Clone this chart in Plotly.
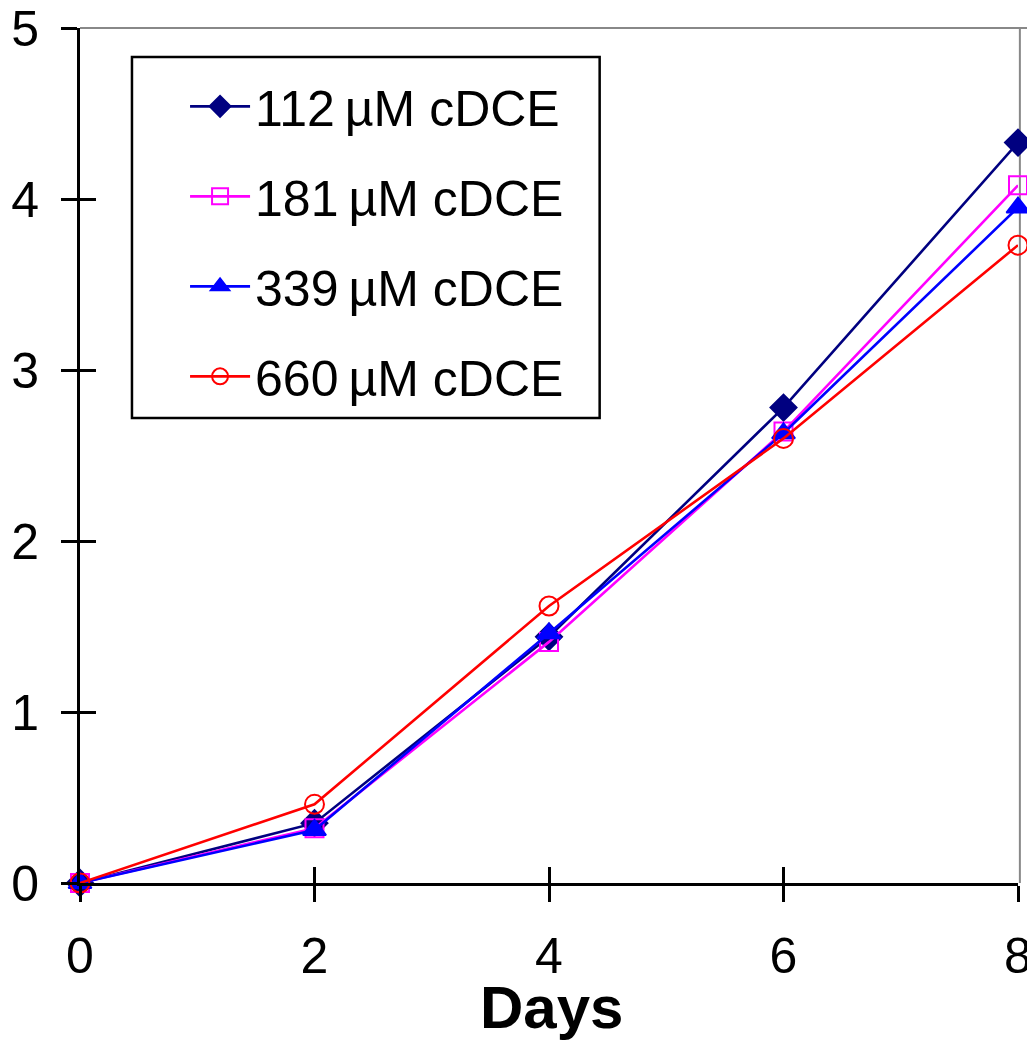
import plotly.graph_objects as go

days = [0, 2, 4, 6, 8]
s112 = [0.0, 0.35, 1.44, 2.78, 4.33]
s181 = [0.0, 0.32, 1.41, 2.64, 4.08]
s339 = [0.0, 0.31, 1.46, 2.63, 3.95]
s660 = [0.0, 0.46, 1.62, 2.60, 3.73]

names = ["112\u2009\u00b5M cDCE", "181\u2009\u00b5M cDCE", "339\u2009\u00b5M cDCE", "660\u2009\u00b5M cDCE"]
colors = ["#000080", "#FF00FF", "#0000FF", "#FF0000"]
symbols = ["diamond", "square-open", "triangle-up", "circle-open"]
sizes = [20, 18, 20, 19]
series = [s112, s181, s339, s660]

FONT = "Liberation Sans, Arial, sans-serif"

fig = go.Figure()
for i, (nm, col, sym, sz, ys) in enumerate(zip(names, colors, symbols, sizes, series)):
    fig.add_trace(go.Scatter(
        x=days, y=ys, name=nm, mode="lines+markers",
        line=dict(color=col, width=2.6),
        marker=dict(symbol=sym, size=sz, color=col, line=dict(color=col, width=2)),
        cliponaxis=False, legendgroup="g%d" % i,
    ))

# invisible trace on secondary axes to enable inside ticks (crossing ticks)
fig.add_trace(go.Scatter(x=[0], y=[0], xaxis="x2", yaxis="y2", mode="markers",
                         marker=dict(opacity=0), showlegend=False, hoverinfo="skip"))

fig.update_layout(
    width=1027, height=1038,
    margin=dict(l=72, r=17, t=20, b=163),
    paper_bgcolor="white", plot_bgcolor="white",
    font=dict(family=FONT, color="black", size=50),
    showlegend=True,
    legend=dict(
        x=0.112, y=0.954, xanchor="left", yanchor="top",
        bgcolor="rgba(0,0,0,0)", borderwidth=0,
        font=dict(family=FONT, size=50, color="black"),
        tracegroupgap=22, itemwidth=60,
    ),
    xaxis=dict(
        range=[0, 8], tickvals=[0, 2, 4, 6, 8], showgrid=False, zeroline=False,
        showline=True, linecolor="black", linewidth=3, automargin=False,
        ticks="outside", ticklen=16, tickwidth=3, tickcolor="black",
        tickfont=dict(size=50, family=FONT), ticklabelstandoff=11,
        ticklabeloverflow="allow",
    ),
    yaxis=dict(
        range=[0, 5], tickvals=[0, 1, 2, 3, 4, 5], showgrid=False, zeroline=False,
        showline=True, linecolor="black", linewidth=3, automargin=False,
        ticks="outside", ticklen=16, tickwidth=3, tickcolor="black",
        tickfont=dict(size=50, family=FONT), ticklabelstandoff=12,
        ticklabeloverflow="allow",
    ),
    xaxis2=dict(
        range=[0, 8], tickvals=[0, 2, 4, 6, 8], overlaying="x", side="bottom",
        showgrid=False, zeroline=False, showline=False, showticklabels=False,
        ticks="inside", ticklen=16, tickwidth=3, tickcolor="black", automargin=False,
    ),
    yaxis2=dict(
        range=[0, 5], tickvals=[0, 1, 2, 3, 4, 5], overlaying="y", side="left",
        showgrid=False, zeroline=False, showline=False, showticklabels=False,
        ticks="inside", ticklen=16, tickwidth=3, tickcolor="black", automargin=False,
    ),
    annotations=[
        dict(text="<b>Days</b>", xref="paper", yref="paper", x=0.503, y=-0.146,
             xanchor="center", yanchor="middle", showarrow=False,
             font=dict(size=60, family=FONT, color="black")),
    ],
    shapes=[
        dict(type="line", xref="x domain", yref="y domain", x0=0, x1=1.02, y0=1, y1=1,
             line=dict(color="#888888", width=2), layer="below"),
        dict(type="line", xref="x domain", yref="y domain", x0=1.002, x1=1.002, y0=0, y1=1,
             line=dict(color="#888888", width=2), layer="below"),
        dict(type="rect", xref="paper", yref="paper", x0=0.0554, x1=0.554, y0=0.544, y1=0.966,
             line=dict(color="black", width=2.5), fillcolor="white", layer="below"),
    ],
)

fig.write_html("out.html")
